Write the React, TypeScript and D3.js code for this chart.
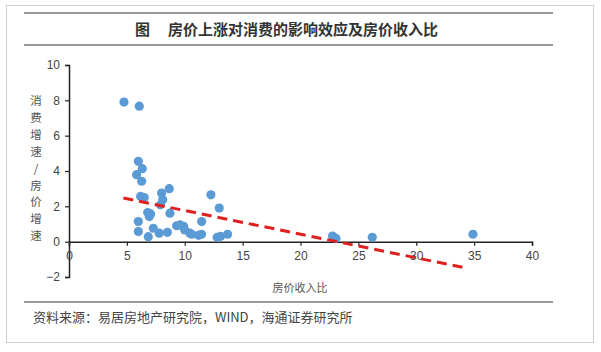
import React, { useEffect, useRef } from 'react';
import * as d3 from 'd3';

// scatter points: house price-to-income ratio vs consumption/house-price growth
const ratio = [
  4.75, 6.07, 5.99, 6.33, 5.84, 6.28, 6.19, 6.5, 8.66, 8.0, 8.1, 7.9,
  6.8, 7.05, 6.94, 8.72, 5.99, 7.28, 5.99, 6.85, 7.8, 8.5, 9.3, 9.6,
  9.9, 10.0, 10.45, 10.6, 11.2, 11.45, 11.46, 12.26, 12.98, 12.8, 13.1, 13.7,
  22.77, 23.06, 26.2, 34.9,
];
const growth = [
  7.9, 7.67, 4.55, 4.13, 3.79, 3.42, 2.56, 2.5, 3.0, 2.75, 2.37, 2.09,
  1.65, 1.57, 1.42, 1.61, 1.14, 0.76, 0.57, 0.28, 0.48, 0.53, 0.9, 0.95,
  0.87, 0.66, 0.48, 0.42, 0.36, 0.42, 1.14, 2.65, 1.9, 0.25, 0.3, 0.42,
  0.32, 0.19, 0.25, 0.42,
];

// fitted trend line end points
const trendX = [4.7, 34.0];
const trendY = [2.47, -1.45];

const xTicks = [0, 5, 10, 15, 20, 25, 30, 35, 40];
const yTicks = [-2, 0, 2, 4, 6, 8, 10];

const titleTag = '图';
const title = '房价上涨对消费的影响效应及房价收入比';
const yTitle = ['消', '费', '增', '速', '/', '房', '价', '增', '速'];
const xTitle = '房价收入比';
const source = '资料来源：易居房地产研究院，WIND，海通证券研究所';

const W = 601, H = 352;
const cjk = '"Noto Sans CJK SC", sans-serif';
const latin = '"Liberation Sans", Arial, sans-serif';

const App = () => {
  const ref = useRef<SVGSVGElement>(null);

  useEffect(() => {
    const svg = d3.select(ref.current);
    svg.selectAll('*').remove();

    const x = d3.scaleLinear().domain([0, 40]).range([69, 532]);
    const y = d3.scaleLinear().domain([-2, 10]).range([277, 65]);

    svg.append('rect')
      .attr('x', 6.5).attr('y', 5.5)
      .attr('width', 587).attr('height', 337)
      .attr('fill', '#fff').attr('stroke', '#cfcfcf');

    // title rules
    [13, 45, 302].forEach((yy) => {
      svg.append('line')
        .attr('x1', 24).attr('x2', 553)
        .attr('y1', yy).attr('y2', yy)
        .attr('stroke', '#777').attr('stroke-width', 1.5);
    });

    svg.append('text')
      .attr('x', 135).attr('y', 35)
      .attr('font-family', cjk).attr('font-size', 15).attr('font-weight', 'bold')
      .attr('fill', '#333')
      .text(titleTag);
    svg.append('text')
      .attr('x', 168).attr('y', 35)
      .attr('font-family', cjk).attr('font-size', 15).attr('font-weight', 'bold')
      .attr('fill', '#333')
      .text(title);

    // y axis
    const yAxis = d3.axisLeft(y).tickValues(yTicks).tickSize(4).tickPadding(5);
    const gy = svg.append('g').attr('transform', `translate(${x(0)},0)`).call(yAxis);
    gy.select('.domain').attr('stroke', '#222').attr('stroke-width', 1.5);
    gy.selectAll('.tick line').attr('stroke', '#222').attr('stroke-width', 1.2);
    gy.selectAll('.tick text')
      .attr('font-family', latin).attr('font-size', 12).attr('fill', '#444');

    // x axis at y = 0
    const xAxis = d3.axisBottom(x).tickValues(xTicks).tickSize(4).tickPadding(6);
    const gx = svg.append('g').attr('transform', `translate(0,${y(0)})`).call(xAxis);
    gx.select('.domain').attr('stroke', '#222').attr('stroke-width', 1.5);
    gx.selectAll('.tick line').attr('stroke', '#222').attr('stroke-width', 1.2);
    gx.selectAll('.tick text')
      .attr('font-family', latin).attr('font-size', 12).attr('fill', '#444');

    // points
    svg.append('g')
      .selectAll('circle')
      .data(ratio.map((r, i) => [r, growth[i]]))
      .join('circle')
      .attr('cx', (d) => x(d[0]))
      .attr('cy', (d) => y(d[1]))
      .attr('r', 4.6)
      .attr('fill', '#5b9bd5');

    // trend line
    const line = d3.line<number>()
      .x((d) => x(d))
      .y((d, i) => y(trendY[i]));
    svg.append('path')
      .datum(trendX)
      .attr('d', line)
      .attr('fill', 'none')
      .attr('stroke', '#e0201e')
      .attr('stroke-width', 3)
      .attr('stroke-dasharray', '10,6');

    // y title, one character per row
    svg.append('g')
      .selectAll('text')
      .data(yTitle)
      .join('text')
      .attr('x', 36)
      .attr('y', (d, i) => 105 + i * 16.9)
      .attr('text-anchor', 'middle')
      .attr('font-family', cjk).attr('font-size', 11.5)
      .attr('fill', '#555')
      .text((d) => d);

    svg.append('text')
      .attr('x', 300).attr('y', 292)
      .attr('text-anchor', 'middle')
      .attr('font-family', cjk).attr('font-size', 11)
      .attr('fill', '#555')
      .text(xTitle);

    svg.append('text')
      .attr('x', 33).attr('y', 322)
      .attr('font-family', cjk).attr('font-size', 13)
      .attr('fill', '#444')
      .text(source);
  }, []);

  return (
    <svg
      ref={ref}
      width={W}
      height={H}
      style={{ position: 'absolute', left: 0, top: 0 }}
    />
  );
};

export default App;
